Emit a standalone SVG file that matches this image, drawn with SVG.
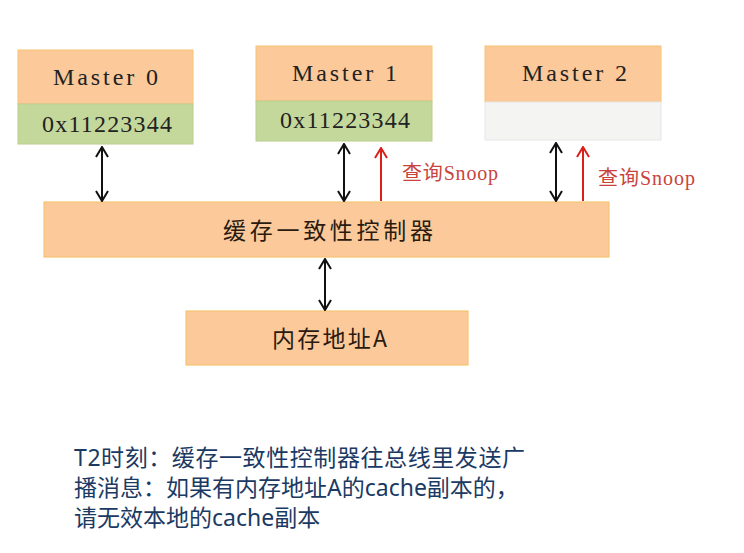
<svg xmlns="http://www.w3.org/2000/svg" width="744" height="553" viewBox="0 0 744 553">
<style>
.hdr{fill:#FBC99A;stroke:#F6C572;stroke-width:1}
.reg{fill:#C5D89C;stroke:#B9CE8C;stroke-width:1}
.empty{fill:#F4F4F3;stroke:#E6E6E6;stroke-width:1}
.box{fill:#FBC99A;stroke:#F6C572;stroke-width:1.2}
.mono{font-family:"Liberation Serif","DejaVu Serif",serif;font-size:24px;fill:#222}
.cjk{font-family:"Noto Sans CJK SC",sans-serif;font-size:23px;fill:#2a1a10}
.bi{stroke:#111;stroke-width:2;fill:none}
.red{stroke:#D9201A;stroke-width:2;fill:none}
.lbl{font-family:"Liberation Serif","Noto Sans CJK SC",serif;font-size:20px;fill:#C9433D}
.note{font-family:"Noto Sans","Noto Sans CJK SC",sans-serif;font-size:23px;fill:#1B3A63}
</style>
<defs>
<marker id="ah" viewBox="0 0 12 14" refX="11" refY="7" markerWidth="12" markerHeight="14" markerUnits="userSpaceOnUse" orient="auto-start-reverse">
<path d="M1,1 L11,7 L1,13" fill="none" stroke="#111" stroke-width="2"/>
</marker>
<marker id="ahr" viewBox="0 0 12 14" refX="11" refY="7" markerWidth="12" markerHeight="14" markerUnits="userSpaceOnUse" orient="auto">
<path d="M1,1 L11,7 L1,13" fill="none" stroke="#D9201A" stroke-width="2"/>
</marker>
</defs>
<g id="master0">
<rect class="hdr" x="18" y="50" width="175" height="54"/>
<rect class="reg" x="18" y="104" width="175" height="40"/>
<text class="mono" x="53" y="85" textLength="105" lengthAdjust="spacing">Master 0</text>
<text class="mono" x="42" y="132" textLength="130" lengthAdjust="spacing">0x11223344</text>
</g>
<g id="master1">
<rect class="hdr" x="256" y="46" width="176" height="55"/>
<rect class="reg" x="256" y="101" width="176" height="40"/>
<text class="mono" x="292" y="81" textLength="105" lengthAdjust="spacing">Master 1</text>
<text class="mono" x="280" y="128" textLength="130" lengthAdjust="spacing">0x11223344</text>
</g>
<g id="master2">
<rect class="hdr" x="485" y="46" width="176" height="56"/>
<rect class="empty" x="485" y="102" width="176" height="38"/>
<text class="mono" x="522" y="81" textLength="105" lengthAdjust="spacing">Master 2</text>
</g>
<g id="controller">
<rect class="box" x="44" y="202" width="565" height="55"/>
<text class="cjk" x="223" y="239" textLength="210" lengthAdjust="spacing">缓存一致性控制器</text>
</g>
<g id="memory">
<rect class="box" x="186" y="311" width="282" height="54"/>
<text class="cjk" x="272" y="347" textLength="115" lengthAdjust="spacing">内存地址A</text>
</g>
<g id="connectors">
<line class="bi" x1="102" y1="147" x2="102" y2="201" marker-start="url(#ah)" marker-end="url(#ah)"/>
<line class="bi" x1="344" y1="144" x2="344" y2="201" marker-start="url(#ah)" marker-end="url(#ah)"/>
<line class="bi" x1="556" y1="143" x2="556" y2="201" marker-start="url(#ah)" marker-end="url(#ah)"/>
<line class="bi" x1="325" y1="259" x2="325" y2="310" marker-start="url(#ah)" marker-end="url(#ah)"/>
<line class="red" x1="381" y1="201" x2="381" y2="148" marker-end="url(#ahr)"/>
<line class="red" x1="583" y1="201" x2="583" y2="147" marker-end="url(#ahr)"/>
</g>
<g id="labels">
<text class="lbl" x="402" y="180" textLength="96" lengthAdjust="spacing">查询Snoop</text>
<text class="lbl" x="598" y="185" textLength="97" lengthAdjust="spacing">查询Snoop</text>
</g>
<g id="note">
<text class="note" x="74" y="466" textLength="451" lengthAdjust="spacing">T2时刻：缓存一致性控制器往总线里发送广</text>
<text class="note" x="74" y="496">播消息：如果有内存地址A的cache副本的，</text>
<text class="note" x="74" y="526">请无效本地的cache副本</text>
</g>
</svg>
